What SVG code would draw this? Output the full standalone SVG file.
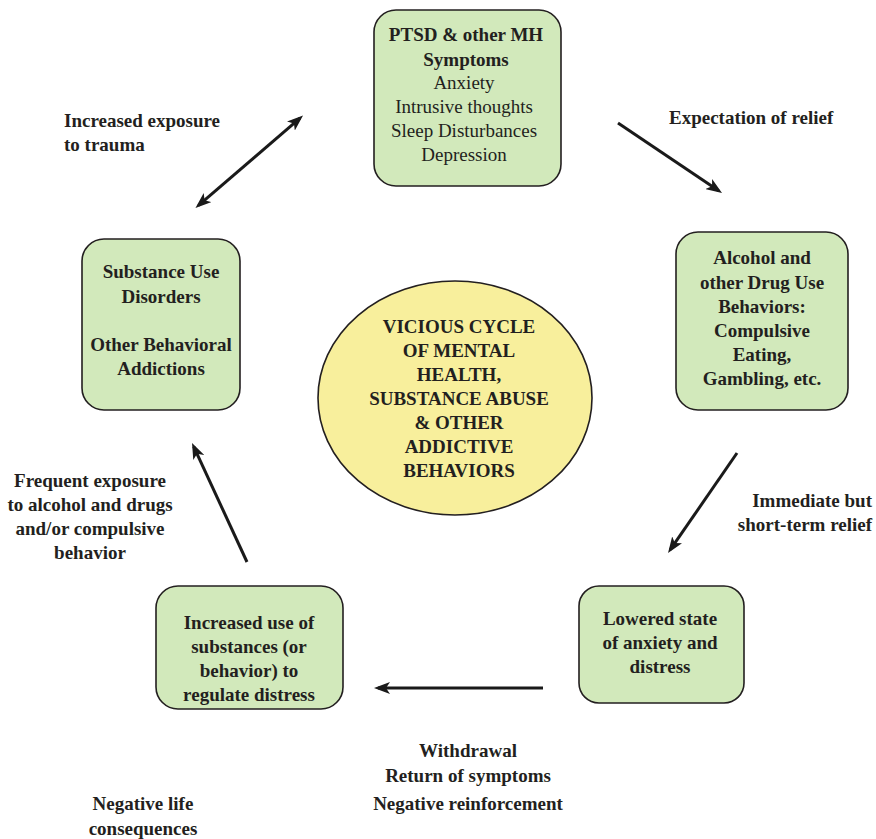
<svg xmlns="http://www.w3.org/2000/svg" width="876" height="839" viewBox="0 0 876 839" font-family="'Liberation Serif', 'Times New Roman', serif">
<defs>
<style>
.box{fill:#d2e9bb;stroke:#231f20;stroke-width:1.6}
.ell{fill:#f8ef9c;stroke:#231f20;stroke-width:1.6}
text{font-family:'Liberation Serif','Times New Roman',serif;font-size:19px;fill:#231f20}
.b{font-weight:bold}
.c{text-anchor:middle}
.r{text-anchor:end}
.arr{stroke:#1a1a1a;stroke-width:3;fill:none;marker-end:url(#ah)}
</style>
<marker id="ah" viewBox="0 0 16 12" markerWidth="16" markerHeight="12" refX="12" refY="6" orient="auto-start-reverse" markerUnits="userSpaceOnUse">
<path d="M0,0 L16,6 L0,12 L4,6 Z" fill="#1a1a1a"/>
</marker>
</defs>
<rect width="876" height="839" fill="#ffffff"/>

<g id="connectors">
<line class="arr" x1="198.5" y1="205.4" x2="300" y2="118.2" marker-start="url(#ah)"/>
<line class="arr" x1="618" y1="123" x2="718.7" y2="190.8"/>
<line class="arr" x1="737" y1="453" x2="670.3" y2="549.7"/>
<line class="arr" x1="543" y1="688" x2="378" y2="688"/>
<line class="arr" x1="247" y1="562" x2="193.7" y2="446.6"/>
</g>

<g id="ptsd">
<rect class="box" x="374" y="10" width="187" height="176" rx="22"/>
<text class="b c" x="466" y="41">PTSD &amp; other MH</text>
<text class="b c" x="466" y="66">Symptoms</text>
<text class="c" x="464" y="89">Anxiety</text>
<text class="c" x="464" y="113">Intrusive thoughts</text>
<text class="c" x="464" y="137">Sleep Disturbances</text>
<text class="c" x="464" y="161">Depression</text>
</g>

<g id="alcohol">
<rect class="box" x="676" y="232" width="172" height="178" rx="22"/>
<text class="b c" x="762" y="264">Alcohol and</text>
<text class="b c" x="762" y="289">other Drug Use</text>
<text class="b c" x="762" y="313">Behaviors:</text>
<text class="b c" x="762" y="337">Compulsive</text>
<text class="b c" x="762" y="361">Eating,</text>
<text class="b c" x="762" y="385">Gambling, etc.</text>
</g>

<g id="lowered">
<rect class="box" x="579" y="586" width="165" height="117" rx="20"/>
<text class="b c" x="660" y="625">Lowered state</text>
<text class="b c" x="660" y="649">of anxiety and</text>
<text class="b c" x="660" y="673">distress</text>
</g>

<g id="increased">
<rect class="box" x="156" y="586" width="187" height="123" rx="22"/>
<text class="b c" x="249" y="629">Increased use of</text>
<text class="b c" x="249" y="653">substances (or</text>
<text class="b c" x="249" y="677">behavior) to</text>
<text class="b c" x="249" y="701">regulate distress</text>
</g>

<g id="sud">
<rect class="box" x="82" y="239" width="158" height="171" rx="22"/>
<text class="b c" x="161" y="278">Substance Use</text>
<text class="b c" x="161" y="303">Disorders</text>
<text class="b c" x="161" y="351">Other Behavioral</text>
<text class="b c" x="161" y="375">Addictions</text>
</g>

<g id="center">
<ellipse class="ell" cx="455" cy="398" rx="137" ry="117"/>
<text class="b c" x="459" y="333">VICIOUS CYCLE</text>
<text class="b c" x="459" y="357">OF MENTAL</text>
<text class="b c" x="459" y="381">HEALTH,</text>
<text class="b c" x="459" y="405">SUBSTANCE ABUSE</text>
<text class="b c" x="459" y="429">&amp; OTHER</text>
<text class="b c" x="459" y="453">ADDICTIVE</text>
<text class="b c" x="459" y="477">BEHAVIORS</text>
</g>

<g id="labels">
<text class="b" x="64" y="127">Increased exposure</text>
<text class="b" x="64" y="151">to trauma</text>
<text class="b" x="669" y="124">Expectation of relief</text>
<text class="b r" x="872" y="507">Immediate but</text>
<text class="b r" x="872" y="531">short-term relief</text>
<text class="b c" x="90" y="487">Frequent exposure</text>
<text class="b c" x="90" y="511">to alcohol and drugs</text>
<text class="b c" x="90" y="535">and/or compulsive</text>
<text class="b c" x="90" y="559">behavior</text>
<text class="b c" x="468" y="757">Withdrawal</text>
<text class="b c" x="468" y="782">Return of symptoms</text>
<text class="b c" x="468" y="810">Negative reinforcement</text>
<text class="b c" x="143" y="810">Negative life</text>
<text class="b c" x="143" y="835">consequences</text>
</g>
</svg>
